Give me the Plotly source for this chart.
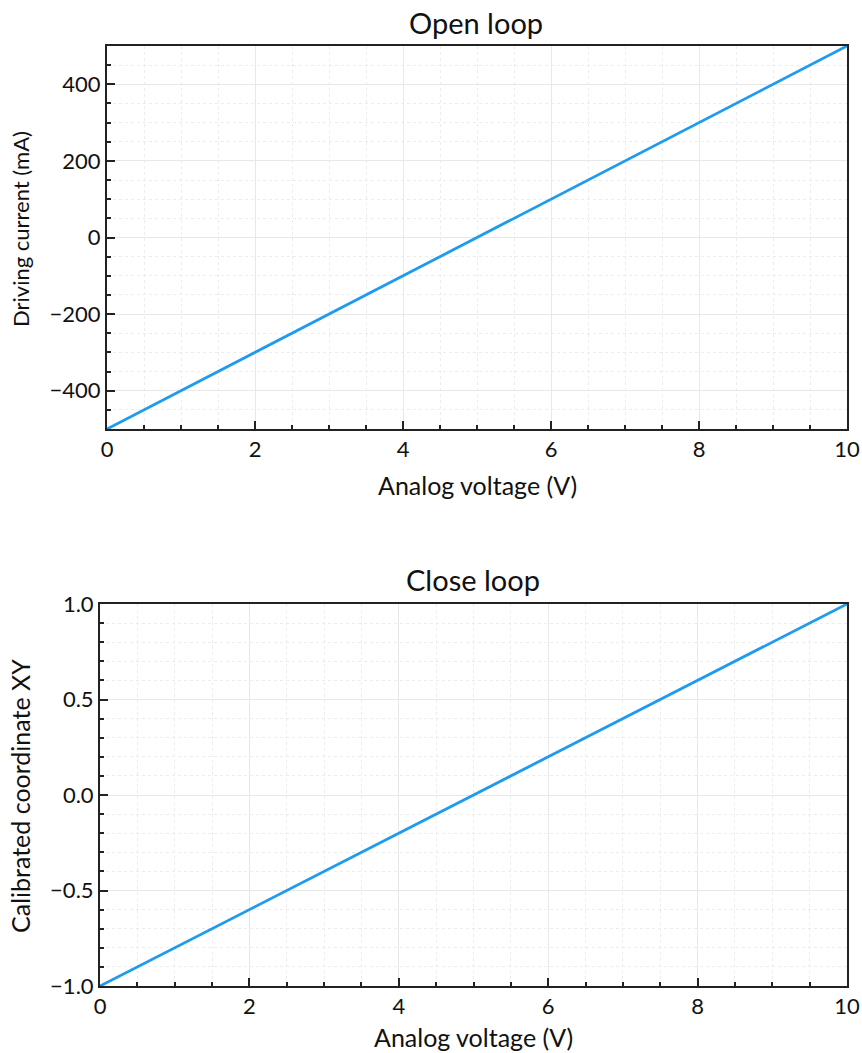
import plotly.graph_objects as go

voltage = [0, 10]
current_mA = [-500, 500]
coord_xy = [-1.0, 1.0]

W, H = 862, 1053
FONT = "Lato"
LINE = "#1e9bef"

def px_x(p):
    return p / W

def px_y(p):
    return 1 - p / H

fig = go.Figure()
fig.add_trace(go.Scatter(x=voltage, y=current_mA, mode="lines",
                         line=dict(color=LINE, width=2.8), xaxis="x", yaxis="y", showlegend=False))
fig.add_trace(go.Scatter(x=voltage, y=coord_xy, mode="lines",
                         line=dict(color=LINE, width=2.8), xaxis="x2", yaxis="y2", showlegend=False))

def axis_common(**kw):
    d = dict(showline=True, linecolor="#222222", linewidth=2, mirror=True, automargin=False,
             ticks="inside", ticklen=8, tickwidth=2, tickcolor="#222222",
             showgrid=True, gridcolor="#e8e8e8", gridwidth=1, zeroline=False,
             tickfont=dict(family=FONT, size=22, color="#111111"))
    d.update(kw)
    return d

minor_x = dict(dtick=0.5, ticks="inside", ticklen=4, tickwidth=1.5, tickcolor="#222222",
               showgrid=True, gridcolor="#ececec", griddash="dot", gridwidth=1)

fig.update_layout(
    width=W, height=H, paper_bgcolor="white", plot_bgcolor="white",
    margin=dict(l=0, r=0, t=0, b=0, autoexpand=False),
    xaxis=axis_common(domain=[px_x(107), px_x(847)], range=[0, 10], dtick=2, anchor="y",
                      minor=minor_x),
    yaxis=axis_common(domain=[px_y(429), px_y(46)], range=[-500, 500], dtick=200, anchor="x",
                      minor=dict(minor_x, dtick=50)),
    xaxis2=axis_common(domain=[px_x(100), px_x(847)], range=[0, 10], dtick=2, anchor="y2",
                       minor=minor_x),
    yaxis2=axis_common(domain=[px_y(986), px_y(604)], range=[-1, 1], dtick=0.5, anchor="x2",
                       tickformat=".1f", minor=dict(minor_x, dtick=0.1)),
)

C = "#111111"
annotations = [
    dict(text="Open loop", x=px_x(476), y=px_y(22), font=dict(family=FONT, size=29, color=C)),
    dict(text="Close loop", x=px_x(473.5), y=px_y(579), font=dict(family=FONT, size=29, color=C)),
    dict(text="Analog voltage (V)", x=px_x(477), y=px_y(485), font=dict(family=FONT, size=25, color=C)),
    dict(text="Analog voltage (V)", x=px_x(473.5), y=px_y(1037), font=dict(family=FONT, size=25, color=C)),
    dict(text="Driving current (mA)", x=px_x(20), y=px_y(229),
         font=dict(family=FONT, size=22, color=C), textangle=-90),
    dict(text="Calibrated coordinate XY", x=px_x(20), y=px_y(796),
         font=dict(family=FONT, size=25, color=C), textangle=-90),
]
for a in annotations:
    fig.add_annotation(xref="paper", yref="paper", showarrow=False,
                       xanchor="center", yanchor="middle", **a)

fig.write_html("out.html", config={"displayModeBar": False},
               post_script="document.body.style.margin='0px';")
